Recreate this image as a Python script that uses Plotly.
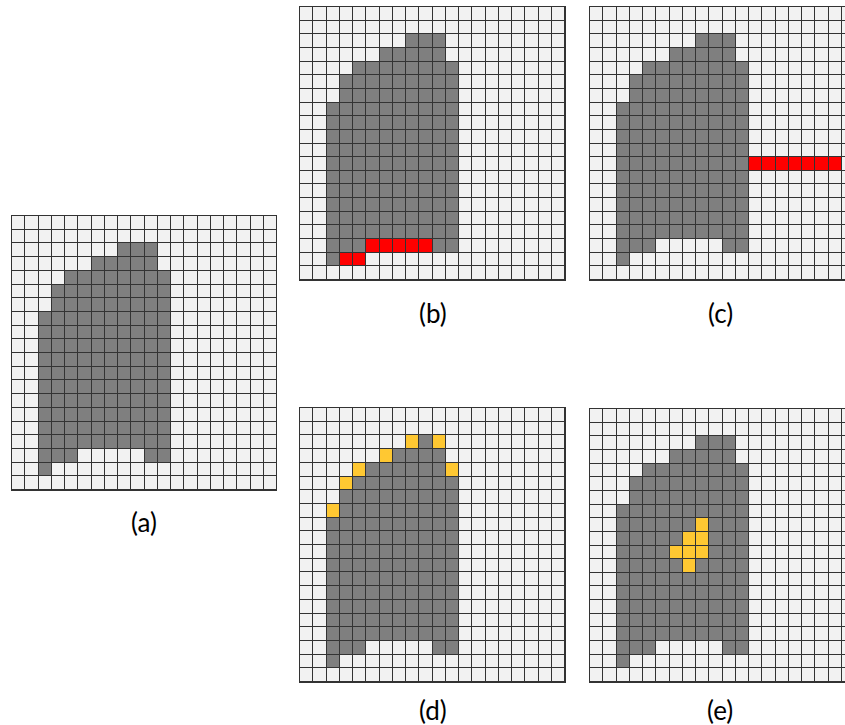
import plotly.graph_objects as go

# ---------------- data ----------------
N_ROWS = 20
N_COLS = 20

# base silhouette: each entry is one horizontal run of dark cells (row, first col, last col)
shape_row       = [2, 3, 4, 5, 6, 7, 8, 9, 10, 11, 12, 13, 14, 15, 16, 17, 17, 18]
shape_col_start = [8, 6, 4, 3, 3, 2, 2, 2, 2,  2,  2,  2,  2,  2,  2,  2, 10,  2]
shape_col_end   = [10, 10, 11, 11, 11, 11, 11, 11, 11, 11, 11, 11, 11, 11, 11, 4, 11, 2]

# (b) red runs
b_red_row   = [17, 18]
b_red_start = [5, 3]
b_red_end   = [9, 4]

# (c) red runs
c_red_row   = [11]
c_red_start = [12]
c_red_end   = [18]

# (d) yellow cells (row, col)
d_yel_row = [2, 2, 3, 4, 4, 5, 7]
d_yel_col = [8, 10, 6, 4, 11, 3, 2]

# (e) yellow cells (row, col)
e_yel_row = [8, 9, 9, 10, 10, 10, 11]
e_yel_col = [8, 7, 8, 6, 7, 8, 7]

panel_labels = ["(a)", "(b)", "(c)", "(d)", "(e)"]

# ---------------- build grids ----------------
def base_grid():
    z = [[0] * N_COLS for _ in range(N_ROWS)]
    for r, c0, c1 in zip(shape_row, shape_col_start, shape_col_end):
        for c in range(c0, c1 + 1):
            z[r][c] = 1
    return z

def add_runs(z, rows, starts, ends, val):
    for r, c0, c1 in zip(rows, starts, ends):
        for c in range(c0, c1 + 1):
            z[r][c] = val
    return z

def add_cells(z, rows, cols, val):
    for r, c in zip(rows, cols):
        z[r][c] = val
    return z

grids = [
    base_grid(),
    add_runs(base_grid(), b_red_row, b_red_start, b_red_end, 2),
    add_runs(base_grid(), c_red_row, c_red_start, c_red_end, 2),
    add_cells(base_grid(), d_yel_row, d_yel_col, 3),
    add_cells(base_grid(), e_yel_row, e_yel_col, 3),
]

LIGHT = "#f2f2f2"
GRAY = "#7f7f7f"
RED = "#ff0000"
YELLOW = "#ffc832"
LINE = "#333333"

colorscale = [[0, LIGHT], [0.25, LIGHT], [0.25, GRAY], [0.5, GRAY],
              [0.5, RED], [0.75, RED], [0.75, YELLOW], [1, YELLOW]]

W, H = 845, 725
# pixel boxes of panels (left, right, top, bottom)
boxes = [
    (12, 276, 216, 490),
    (300, 565, 7, 280),
    (590, 845, 7, 280),
    (300, 565, 408, 682),
    (590, 845, 409, 682),
]
label_pos = [(144, 522), (433, 313), (720, 313), (433, 710), (720, 710)]

fig = go.Figure()
for i, (z, (l, r, t, b)) in enumerate(zip(grids, boxes)):
    ax = "" if i == 0 else str(i + 1)
    fig.add_trace(go.Heatmap(
        z=z, x=list(range(N_COLS)), y=list(range(N_ROWS)),
        colorscale=colorscale, zmin=0, zmax=3, showscale=False,
        xgap=1, ygap=1, hoverinfo="skip",
        xaxis="x" + ax, yaxis="y" + ax,
    ))
    cell_w = 265 / N_COLS
    xmax = -0.5 + (r - l) / cell_w
    fig.layout["xaxis" + ax] = dict(
        domain=[l / W, r / W], range=[-0.5, xmax], anchor="y" + ax,
        showgrid=False, zeroline=False, showticklabels=False, ticks="",
        showline=True, mirror=True, linecolor=LINE, linewidth=1, fixedrange=True)
    fig.layout["yaxis" + ax] = dict(
        domain=[1 - b / H, 1 - t / H], range=[N_ROWS - 0.5, -0.5], anchor="x" + ax,
        showgrid=False, zeroline=False, showticklabels=False, ticks="",
        showline=True, mirror=True, linecolor=LINE, linewidth=1, fixedrange=True)

for txt, (x, y) in zip(panel_labels, label_pos):
    fig.add_annotation(text=txt, x=x / W, y=1 - y / H, xref="paper", yref="paper",
                       showarrow=False, xanchor="center", yanchor="middle",
                       font=dict(family="Lato, Open Sans, sans-serif", size=26, color="#000000"))

fig.update_layout(
    width=W, height=H, margin=dict(l=0, r=0, t=0, b=0),
    paper_bgcolor="white", plot_bgcolor=LINE, showlegend=False,
)

fig.write_html("out.html",
               config={"displayModeBar": False, "staticPlot": True},
               post_script="document.body.style.margin='0px';document.body.style.overflow='hidden';")
